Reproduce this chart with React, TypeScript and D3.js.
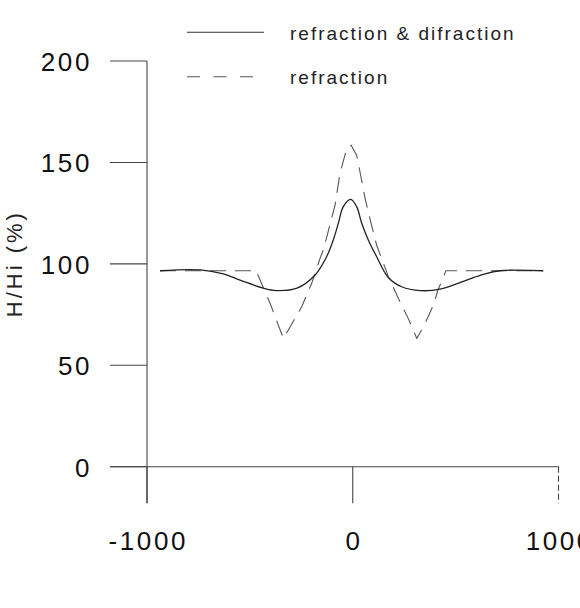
import * as d3 from 'd3'

const W = 580
const H = 608
const FONT = '"Liberation Sans", Arial, sans-serif'

// wave height ratio along the x section
const diffX = [-937, -742, -629, -548, -435, -370, -271, -183, -127, -94.5, -70, -46, -10, 19, 43.5, 75.6, 116.4, 172.8, 238, 330, 424, 554, 635, 716, 926]
const diffY = [96.6, 97, 95, 92, 88, 86.8, 88, 94.5, 103.5, 111.8, 120, 128.2, 131.8, 128.2, 120, 111.8, 103.5, 93.3, 88.7, 86.8, 87.5, 92, 94.8, 96.6, 96.6]

const refrX = [-937, -470, -402, -337.5, -313, -248, -199.5, -159, -143, -86, -62, -29, -8, 19, 35, 60, 84, 116, 173, 221.5, 270, 311, 335, 367, 391.5, 414, 453, 925]
const refrY = [96.6, 96.6, 80.6, 63.3, 67.4, 78.9, 90.4, 102.7, 106.8, 129, 144.6, 157, 158.5, 153.6, 145.4, 132.3, 122, 109.3, 93.7, 83, 73, 63.3, 67.4, 74, 79.7, 87, 96.6, 96.6]

const yTicks = [0, 50, 100, 150, 200]
const xTicks = [-1000, 0, 1000]
const legendLabels = ['refraction & difraction', 'refraction']

export default function App() {
  const x = d3.scaleLinear().domain([-1000, 1000]).range([147, 558.5])
  const y = d3.scaleLinear().domain([0, 200]).range([466.7, 61])

  const solidPath = d3.line<[number, number]>()
    .x(d => x(d[0])).y(d => y(d[1]))
    .curve(d3.curveCatmullRom.alpha(0.5))(diffX.map((v, i) => [v, diffY[i]]))
  const dashPath = d3.line<[number, number]>()
    .x(d => x(d[0])).y(d => y(d[1]))(refrX.map((v, i) => [v, refrY[i]]))

  const tickLen = 37
  const axisColor = '#444'

  return (
    <svg width={W} height={H} style={{ position: 'absolute', left: 0, top: 0, background: '#fff' }} fontFamily={FONT}>
      {/* y axis */}
      <line x1={x(-1000)} x2={x(-1000)} y1={y(200)} y2={y(0) + 36.6} stroke={axisColor} strokeWidth={1.1} />
      {yTicks.map(t => (
        <g key={t}>
          <line x1={x(-1000) - tickLen} x2={x(-1000)} y1={y(t)} y2={y(t)} stroke={axisColor} strokeWidth={1.1} />
          <text x={92} y={y(t) + 9.8} textAnchor="end" fontSize={26} letterSpacing={2.6} fill="#111">{t}</text>
        </g>
      ))}
      {/* x axis */}
      <line x1={x(-1000) - tickLen} x2={x(1000)} y1={y(0)} y2={y(0)} stroke={axisColor} strokeWidth={1.1} />
      {xTicks.map(t => (
        <g key={t}>
          <line x1={x(t)} x2={x(t)} y1={y(0)} y2={y(0) + 36.6} stroke={axisColor} strokeWidth={1.1}
            strokeDasharray={t === 1000 ? '6,3' : undefined} />
          <text x={x(t) + 1.3} y={550} textAnchor="middle" fontSize={26} letterSpacing={2.6} fill="#111">{t}</text>
        </g>
      ))}
      {/* y label */}
      <text transform={`translate(21.5,263.7) rotate(-90)`} textAnchor="middle" fontSize={22} letterSpacing={3} fill="#222">H/Hi (%)</text>

      {/* series */}
      <path d={dashPath ?? ''} fill="none" stroke="#555" strokeWidth={1.1} strokeDasharray="16,9" />
      <path d={solidPath ?? ''} fill="none" stroke="#222" strokeWidth={1.3} />

      {/* legend */}
      <line x1={187} x2={264} y1={32.3} y2={32.3} stroke="#333" strokeWidth={1.1} />
      <text x={290} y={40} fontSize={19} letterSpacing={2} fill="#222">{legendLabels[0]}</text>
      <line x1={187} x2={254} y1={76.7} y2={76.7} stroke="#555" strokeWidth={1.1} strokeDasharray="13,13.5" />
      <text x={290} y={84.3} fontSize={19} letterSpacing={2} fill="#222">{legendLabels[1]}</text>
    </svg>
  )
}
